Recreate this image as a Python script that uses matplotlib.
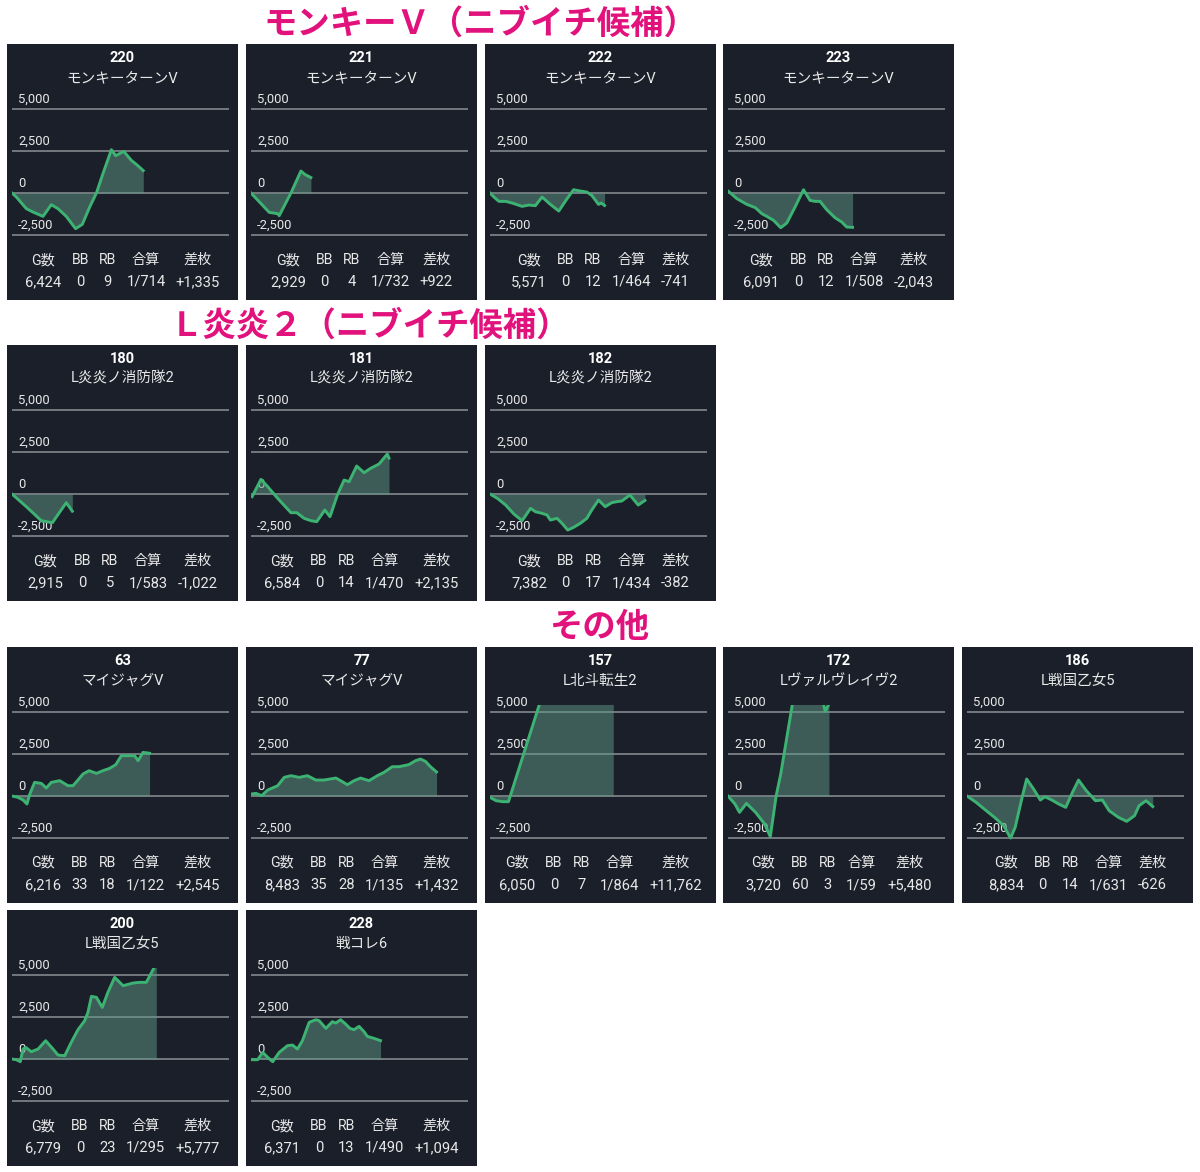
import matplotlib
matplotlib.use("Agg")
import matplotlib.pyplot as plt
import matplotlib.transforms as mtransforms
from matplotlib.patches import Rectangle

# Fonts: Latin in Roboto, Japanese falls back to Noto Sans CJK JP
plt.rcParams['font.family'] = ['Roboto', 'Noto Sans CJK JP', 'DejaVu Sans']

W, H = 1200, 1172

# ---- Data -------------------------------------------------------------
section_titles = ["モンキーＶ（ニブイチ候補）", "Ｌ炎炎２（ニブイチ候補）", "その他"]

machine_ids = ["220", "221", "222", "223",
               "180", "181", "182",
               "63", "77", "157", "172", "186",
               "200", "228"]
machine_names = ["モンキーターンV", "モンキーターンV", "モンキーターンV", "モンキーターンV",
                 "L炎炎ノ消防隊2", "L炎炎ノ消防隊2", "L炎炎ノ消防隊2",
                 "マイジャグV", "マイジャグV", "L北斗転生2", "Lヴァルヴレイヴ2", "L戦国乙女5",
                 "L戦国乙女5", "戦コレ6"]
games = [6424, 2929, 5571, 6091, 2915, 6584, 7382, 6216, 8483, 6050, 3720, 8834, 6779, 6371]
bb_counts = [0, 0, 0, 0, 0, 0, 0, 33, 35, 0, 60, 0, 0, 0]
rb_counts = [9, 4, 12, 12, 5, 14, 17, 18, 28, 7, 3, 14, 23, 13]
combined_rate = ["1/714", "1/732", "1/464", "1/508", "1/583", "1/470", "1/434",
                 "1/122", "1/135", "1/864", "1/59", "1/631", "1/295", "1/490"]
diff_coins = [1335, 922, -741, -2043, -1022, 2135, -382, 2545, 1432, 11762, 5480, -626, 5777, 1094]
stat_headers = ["G数", "BB", "RB", "合算", "差枚"]

# slump graphs: x = progress through the day (0-100), y = coins
x_220 = [0, 2.0, 6.6, 9.7, 14.3, 18.1, 21.2, 25.0, 29.3, 32.4, 35.8, 38.9, 41.9, 45.8, 47.8, 51.5, 55.0, 57.3, 60.5]
y_220 = [0, -238, -932, -1131, -1389, -694, -932, -1389, -2123, -1865, -833, 0, 1151, 2579, 2222, 2480, 1944, 1706, 1335]
x_221 = [0, 8.4, 12.3, 13.0, 18.4, 23.0, 24.8, 27.6]
y_221 = [0, -1151, -1230, -1349, 0, 1310, 1111, 922]
x_222 = [0, 1.8, 4.1, 7.2, 10.2, 14.8, 17.9, 20.9, 24.0, 27.8, 31.7, 35.2, 38.5, 41.6, 44.6, 46.9, 50.0, 51.2, 52.8]
y_222 = [0, -238, -496, -496, -595, -794, -714, -754, -238, -675, -1071, -397, 198, 119, 60, -139, -675, -595, -741]
x_223 = [0, 1.1, 4.1, 8.7, 12.6, 15.6, 17.9, 21.0, 24.3, 27.1, 30.9, 34.8, 37.8, 40.1, 42.4, 45.5, 49.3, 52.4, 54.7, 57.4]
y_223 = [119, 0, -337, -675, -873, -1230, -1389, -1627, -2063, -1786, -833, 198, -437, -496, -496, -992, -1468, -1726, -2024, -2043]
x_180 = [0, 6.6, 13.5, 18.6, 25.0, 27.8]
y_180 = [0, -754, -1587, -1706, -516, -1022]
x_181 = [0.5, 4.6, 7.7, 12.3, 18.4, 21.1, 24.5, 27.6, 30.3, 34.0, 36.4, 39.8, 42.9, 45.2, 48.7, 52.1, 55.1, 59.0, 62.8, 63.6]
y_181 = [-159, 873, 437, -258, -1111, -1111, -1448, -1587, -1647, -952, -1349, -60, 833, 734, 1667, 1270, 1528, 1786, 2381, 2135]
x_182 = [0, 3.4, 7.2, 11.0, 14.8, 18.7, 20.9, 24.0, 26.3, 27.8, 30.9, 33.2, 35.8, 38.5, 41.6, 44.6, 46.9, 50.0, 53.1, 56.1, 58.4, 60.7, 64.5, 68.3, 71.4]
y_182 = [0, -258, -655, -1190, -1587, -853, -1052, -1151, -1250, -1547, -1448, -1746, -2143, -1984, -1746, -1448, -952, -357, -754, -516, -456, -417, -60, -655, -382]
x_63 = [0, 2.8, 5.1, 6.9, 8.1, 10.4, 13.5, 15.8, 18.1, 22.0, 25.8, 28.1, 30.4, 32.7, 35.5, 38.9, 41.9, 45.0, 47.8, 50.4, 53.5, 56.5, 58.1, 60.4, 63.4]
y_63 = [0, -79, -238, -476, 79, 813, 754, 476, 813, 913, 615, 615, 952, 1310, 1508, 1349, 1508, 1647, 1865, 2401, 2401, 2401, 2103, 2599, 2545]
x_77 = [0, 2.3, 4.9, 7.7, 12.3, 15.3, 18.4, 22.2, 26.0, 29.9, 33.7, 39.1, 41.3, 44.4, 47.5, 50.5, 54.4, 58.2, 61.3, 65.1, 68.1, 72.7, 75.8, 78.1, 80.4, 82.7, 85.5]
y_77 = [119, 159, 20, 357, 615, 1111, 1210, 1111, 1210, 952, 952, 1071, 913, 675, 913, 1071, 913, 1210, 1409, 1746, 1746, 1865, 2103, 2202, 2063, 1746, 1432]
x_157 = [0, 2.8, 5.9, 8.5, 31.5, 40.0, 48.0, 56.8]
y_157 = [-79, -278, -337, -337, 9000, 10500, 11200, 11762]
x_172 = [0, 3.2, 5.3, 8.5, 12.7, 16.9, 19.5, 22.2, 24.3, 31.0, 38.0, 43.0, 44.8, 46.5]
y_172 = [0, -476, -972, -437, -972, -1667, -2421, 20, 1310, 6500, 7000, 6000, 5040, 5480]
x_186 = [0, 4.2, 8.5, 12.7, 16.9, 20.1, 22.2, 25.4, 27.5, 30.7, 33.8, 35.9, 39.1, 42.3, 45.5, 48.6, 51.4, 55.0, 59.2, 62.4, 65.5, 69.8, 73.6, 77.2, 79.3, 82.5, 85.6]
y_186 = [0, -377, -833, -1270, -1766, -2500, -1865, -79, 1012, 417, -238, -40, -238, -476, -675, 218, 952, 317, -278, -238, -873, -1270, -1508, -1171, -575, -278, -626]
x_200 = [0, 2.0, 3.8, 5.1, 6.3, 8.9, 12.0, 15.5, 18.9, 21.2, 24.3, 27.3, 30.4, 33.5, 35.0, 36.6, 38.9, 41.6, 44.2, 47.3, 51.2, 55.8, 58.8, 61.9, 65.0, 66.5]
y_200 = [0, -40, -159, 595, 694, 437, 595, 1091, 595, 238, 198, 992, 1746, 2282, 2778, 3730, 3671, 3075, 3968, 4861, 4365, 4524, 4563, 4563, 5317, 5777]
x_228 = [0, 3.1, 5.4, 7.7, 10.0, 13.0, 16.8, 19.1, 21.4, 23.7, 26.8, 29.9, 31.4, 34.5, 37.5, 39.1, 41.3, 43.6, 45.6, 47.5, 49.8, 52.1, 53.6, 56.7, 59.7]
y_228 = [-40, -40, 397, 99, -159, 397, 794, 833, 595, 1091, 2183, 2341, 2282, 1825, 2222, 2143, 2341, 2083, 1825, 1746, 1944, 1627, 1349, 1230, 1094]

slump_x = [x_220, x_221, x_222, x_223, x_180, x_181, x_182, x_63, x_77, x_157, x_172, x_186, x_200, x_228]
slump_y = [y_220, y_221, y_222, y_223, y_180, y_181, y_182, y_63, y_77, y_157, y_172, y_186, y_200, y_228]

y_ticks = [5000, 2500, 0, -2500]

# ---- Layout (pixels) --------------------------------------------------
col_left = [7, 246, 485, 723, 962]
row_top = [44, 345, 647, 910]
panel_w, panel_h = 231, 256
# (row, col) for each machine in order
grid_pos = [(0, 0), (0, 1), (0, 2), (0, 3),
            (1, 0), (1, 1), (1, 2),
            (2, 0), (2, 1), (2, 2), (2, 3), (2, 4),
            (3, 0), (3, 1)]
title_pos = [(480, 24), (370, 326), (600, 627)]

BG = '#1b1f2a'
LINE = '#3db373'
FILL = '#5f9986'
GRID = '#8c9096'
TEXT = '#e8e8e8'
MAGENTA = '#e2127d'


def fx(px):
    return px / W


def fy(py):
    return 1 - py / H


fig = plt.figure(figsize=(W / 100, H / 100), dpi=100)
fig.patch.set_facecolor('white')

# Section titles
for t, (cx, cy) in zip(section_titles, title_pos):
    fig.text(fx(cx), fy(cy), t, ha='center', va='center', fontsize=24,
             fontweight='bold', color=MAGENTA, family=['Noto Sans CJK JP'])

stat_rows = []
for i, (r, c) in enumerate(grid_pos):
    px, py = col_left[c], row_top[r]

    # dark card, kept behind the plot axes
    fig.patches.append(Rectangle((fx(px), fy(py + panel_h)), panel_w / W, panel_h / H,
                                 transform=fig.transFigure, facecolor=BG, edgecolor='none',
                                 zorder=-5))

    fig.text(fx(px + panel_w / 2), fy(py + 14), machine_ids[i], ha='center', va='center',
             fontsize=10.5, fontweight='bold', color='white')
    fig.text(fx(px + panel_w / 2), fy(py + 34), machine_names[i], ha='center', va='center',
             fontsize=10.5, color=TEXT)

    # plot area
    ax = fig.add_axes([fx(px + 5), fy(py + 194.4), 217 / W, 136.1 / H])
    ax.set_facecolor('none')
    ax.set_xlim(0, 100)
    ax.set_ylim(-2700, 5400)
    ax.axis('off')
    trans = mtransforms.blended_transform_factory(ax.transAxes, ax.transData)
    for v in y_ticks:
        ax.axhline(v, color=GRID, lw=1.1, zorder=1)
        ax.annotate(f"{v:,}", xy=(0, v), xycoords=trans, xytext=(6, 3),
                    textcoords='offset pixels', ha='left', va='bottom',
                    fontsize=9.4, color=TEXT, zorder=1)
    xs, ys = slump_x[i], slump_y[i]
    ax.fill_between(xs, ys, 0, color=FILL, alpha=0.5, lw=0, zorder=2)
    ax.plot(xs, ys, color=LINE, lw=2.1, zorder=3, solid_joinstyle='round')

    # stats table
    values = [f"{games[i]:,}", str(bb_counts[i]), str(rb_counts[i]),
              combined_rate[i], f"{diff_coins[i]:+,}"]
    heads = [fig.text(0, fy(py + 216), h, ha='center', va='center', fontsize=10.2, color=TEXT)
             for h in stat_headers]
    vals = [fig.text(0, fy(py + 238), v, ha='center', va='center', fontsize=10.6, color=TEXT)
            for v in values]
    stat_rows.append((px, heads, vals))

# centre the stat columns like a flex row with a fixed gap
renderer = fig.canvas.get_renderer()
gap = 10
for px, heads, vals in stat_rows:
    widths = [max(h.get_window_extent(renderer).width, v.get_window_extent(renderer).width)
              for h, v in zip(heads, vals)]
    total = sum(widths) + gap * (len(widths) - 1)
    left = px + panel_w / 2 - total / 2
    for w, h, v in zip(widths, heads, vals):
        h.set_x(fx(left + w / 2))
        v.set_x(fx(left + w / 2))
        left += w + gap

fig.savefig("out.png", dpi=100, facecolor='white')
